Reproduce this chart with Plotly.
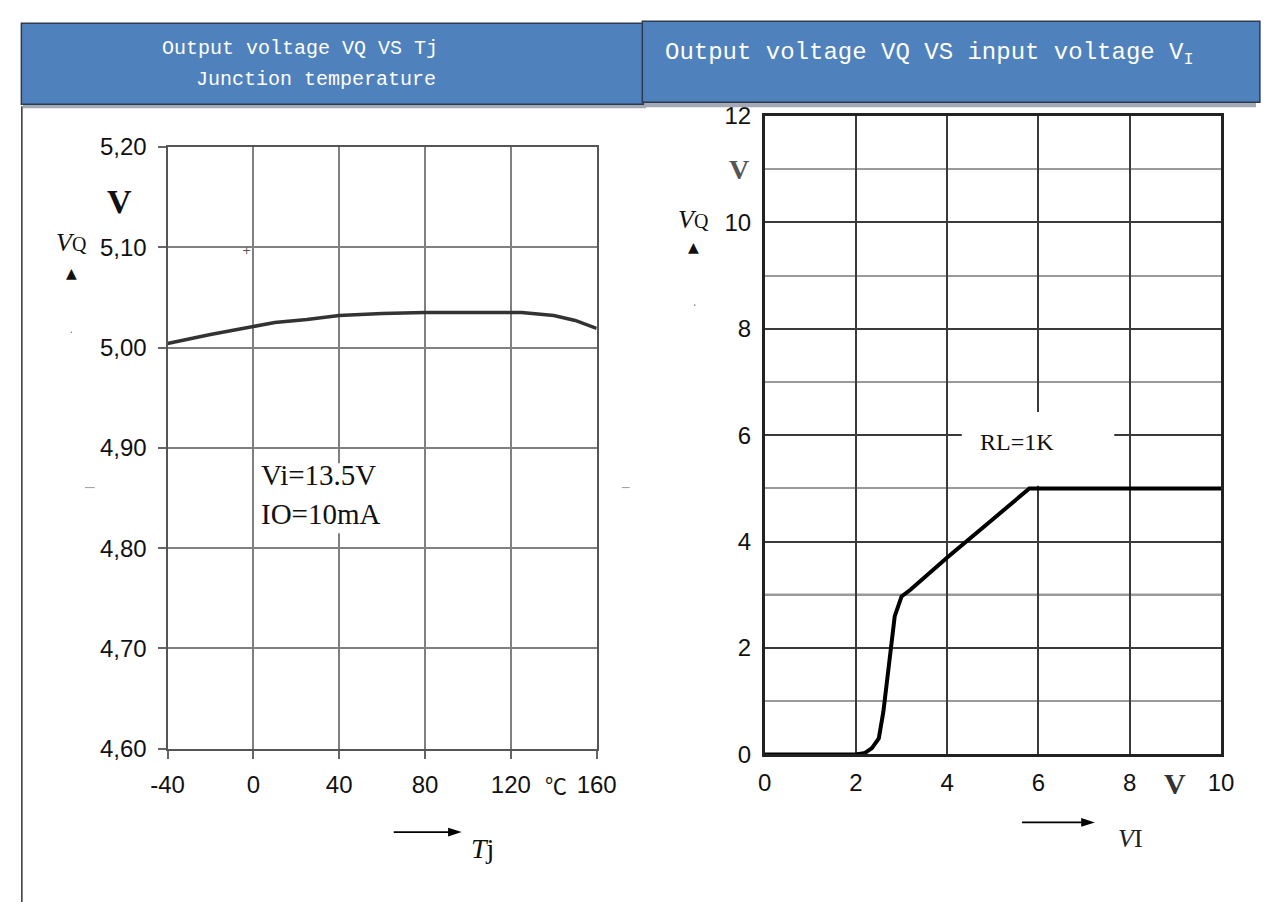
import plotly.graph_objects as go

# ---------------- data ----------------
tj = [-40, -20, 0, 10, 25, 40, 60, 80, 100, 125, 140, 150, 160]
vq_tj = [5.004, 5.013, 5.021, 5.025, 5.028, 5.032, 5.034, 5.035, 5.035, 5.035, 5.032, 5.027, 5.019]

vi = [0, 2.0, 2.2, 2.35, 2.5, 2.6, 2.85, 2.92, 3.0, 3.2, 4.0, 5.0, 5.8, 10]
vq_vi = [0, 0, 0.03, 0.12, 0.3, 0.8, 2.6, 2.8, 2.97, 3.1, 3.7, 4.42, 5.0, 5.0]

tj_ticks = [-40, 0, 40, 80, 120, 160]
tj_ticktext = ["-40", "0", "40", "80", "120", "160"]
vq1_ticks = [4.6, 4.7, 4.8, 4.9, 5.0, 5.1, 5.2]
vq1_ticktext = ["4,60", "4,70", "4,80", "4,90", "5,00", "5,10", "5,20"]
vi_ticks = [0, 2, 4, 6, 8, 10]
vq2_ticks = [0, 2, 4, 6, 8, 10, 12]

W, H = 1276, 915


def X(p):
    return p / W


def Y(p):
    return 1 - p / H


fig = go.Figure()
fig.add_trace(go.Scatter(x=tj, y=vq_tj, mode="lines", xaxis="x", yaxis="y",
                         line=dict(color="#333333", width=3.5), showlegend=False, hoverinfo="skip"))
fig.add_trace(go.Scatter(x=vi, y=vq_vi, mode="lines", xaxis="x2", yaxis="y2",
                         line=dict(color="#000000", width=4), showlegend=False, hoverinfo="skip"))

tickfont = dict(family="Liberation Sans, Arial", size=24, color="#111111")

layout = dict(
    width=W, height=H, autosize=False,
    margin=dict(l=0, r=0, t=0, b=0),
    paper_bgcolor="white", plot_bgcolor="white",
    showlegend=False,
    xaxis=dict(domain=[X(155), X(597)], range=[-40, 160], anchor="y",
               tickvals=tj_ticks, ticktext=tj_ticktext, tickfont=tickfont,
               showgrid=True, gridcolor="#808080", gridwidth=1.5, zeroline=False,
               showline=True, linecolor="#555555", linewidth=2, mirror=True,
               ticks="outside", ticklen=8, tickcolor="#666666", tickwidth=1.5,
               ticklabelstandoff=6, fixedrange=True),
    yaxis=dict(domain=[Y(757), Y(137)], range=[4.6, 5.2], anchor="x",
               tickvals=vq1_ticks, ticktext=vq1_ticktext, tickfont=tickfont,
               showgrid=True, gridcolor="#808080", gridwidth=1.5, zeroline=False,
               showline=True, linecolor="#555555", linewidth=2, mirror=True,
               ticks="outside", ticklen=8, tickcolor="#666666", tickwidth=1.5,
               ticklabelstandoff=6, fixedrange=True),
    xaxis2=dict(domain=[X(770), X(1240)], range=[0, 10], anchor="y2",
                tickvals=vi_ticks, tickfont=tickfont,
                showgrid=True, gridcolor="#3a3a3a", gridwidth=2, zeroline=False,
                showline=True, linecolor="#222222", linewidth=2.5, mirror=True,
                ticks="", ticklabelstandoff=5, fixedrange=True),
    yaxis2=dict(domain=[Y(763), Y(105)], range=[0, 12], anchor="x2",
                tickvals=vq2_ticks, tickfont=tickfont,
                showgrid=True, gridcolor="#3a3a3a", gridwidth=2, zeroline=False,
                minor=dict(dtick=1, showgrid=True, gridcolor="#9a9a9a", gridwidth=1.5),
                showline=True, linecolor="#222222", linewidth=2.5, mirror=True,
                ticks="", ticklabelstandoff=6, fixedrange=True),
)
fig.update_layout(**layout)

shapes = []
# header shadows
shapes.append(dict(type="rect", xref="paper", yref="paper", x0=X(6), x1=X(648), y0=Y(97), y1=Y(90),
                   fillcolor="#a3a9b5", line=dict(width=0), layer="above"))
shapes.append(dict(type="rect", xref="paper", yref="paper", x0=X(646), x1=X(1276), y0=Y(96), y1=Y(88),
                   fillcolor="#a3a9b5", line=dict(width=0), layer="above"))
# header boxes
shapes.append(dict(type="rect", xref="paper", yref="paper", x0=X(4.5), x1=X(645), y0=Y(93), y1=Y(9.5),
                   fillcolor="#4f81bd", line=dict(color="#2d3b4f", width=1.5), layer="above"))
shapes.append(dict(type="rect", xref="paper", yref="paper", x0=X(644), x1=X(1280), y0=Y(91), y1=Y(7.5),
                   fillcolor="#4f81bd", line=dict(color="#2d3b4f", width=1.5), layer="above"))
# left vertical border line
shapes.append(dict(type="line", xref="paper", yref="paper", x0=X(5), x1=X(5), y0=Y(95), y1=Y(915),
                   line=dict(color="#333333", width=1.5)))
# extra dark gridline at VQ = 3
shapes.append(dict(type="line", xref="x2", yref="y2", x0=0, x1=10, y0=3, y1=3,
                   line=dict(color="#3a3a3a", width=2), layer="below"))
# white boxes behind labels
shapes.append(dict(type="rect", xref="paper", yref="paper", x0=X(246), x1=X(418), y0=Y(535), y1=Y(463),
                   fillcolor="white", line=dict(width=0), layer="above"))
shapes.append(dict(type="rect", xref="paper", yref="paper", x0=X(973), x1=X(1130), y0=Y(486), y1=Y(410),
                   fillcolor="white", line=dict(width=0), layer="above"))
# small stray marks of the scanned original
for (x0, x1, yy) in [(70, 80, 488), (623, 631, 488)]:
    shapes.append(dict(type="line", xref="paper", yref="paper", x0=X(x0), x1=X(x1), y0=Y(yy), y1=Y(yy),
                       line=dict(color="#9a9a9a", width=1)))
for (cx, cy) in [(56, 328), (698, 300)]:
    shapes.append(dict(type="circle", xref="paper", yref="paper", x0=X(cx - 0.8), x1=X(cx + 0.8),
                       y0=Y(cy + 0.8), y1=Y(cy - 0.8), fillcolor="#777777", line=dict(width=0)))


# arrows (shaft + head)
def arrow(xs, xe, yy, head=14, half=4.5):
    shapes.append(dict(type="line", xref="paper", yref="paper", x0=X(xs), x1=X(xe - head + 2),
                       y0=Y(yy), y1=Y(yy), line=dict(color="#000000", width=1.6)))
    path = "M {:.5f},{:.5f} L {:.5f},{:.5f} L {:.5f},{:.5f} Z".format(
        X(xe), Y(yy), X(xe - head), Y(yy - half), X(xe - head), Y(yy + half))
    shapes.append(dict(type="path", xref="paper", yref="paper", path=path,
                       fillcolor="#000000", line=dict(width=0)))


arrow(388, 458, 843)
arrow(1035, 1110, 833)
fig.update_layout(shapes=shapes)

serif = "Liberation Serif, Times New Roman"
mono = "Liberation Mono, Courier New"
ann = []


def text(x, y, s, size, family=serif, color="#111111", xanchor="center", yanchor="middle"):
    ann.append(dict(xref="paper", yref="paper", x=X(x), y=Y(y), text=s, showarrow=False,
                    font=dict(family=family, size=size, color=color),
                    xanchor=xanchor, yanchor=yanchor))


# headers
text(147, 36, "Output voltage VQ VS Tj", 20, family=mono, color="white", xanchor="left")
text(182, 68, "Junction temperature", 20, family=mono, color="white", xanchor="left")
text(665, 41, "Output voltage VQ VS input voltage V<sub>I</sub>", 24, family=mono, color="white", xanchor="left")

# left chart labels
text(106, 193, "<b>V</b>", 34)
text(56, 235, "<i>V</i><span style='font-size:20px'>Q</span>", 26)
text(56, 267, "▲", 14, family="DejaVu Sans")
text(236, 244, "+", 11, family="DejaVu Sans", color="#555555")
text(249, 475, "Vi=13.5V", 29, xanchor="left")
text(249, 515, "IO=10mA", 29, xanchor="left")
text(555, 793, "℃", 22, family="Noto Sans CJK SC")
text(479, 860, "<i>T</i>j", 28)

# right chart labels
text(744, 160, "<b>V</b>", 28, color="#555555")
text(697, 212, "<i>V</i><span style='font-size:20px'>Q</span>", 26)
text(697, 240, "▲", 14, family="DejaVu Sans")
text(1030, 441, "RL=1K", 24)
text(1193, 793, "<b>V</b>", 30, color="#333333")
text(1147, 850, "<i>V</i>I", 26, color="#222222")

fig.update_layout(annotations=ann)

fig.write_html("out.html", config=dict(displayModeBar=False),
               post_script="document.body.style.margin='0';document.body.style.overflow='hidden';")
